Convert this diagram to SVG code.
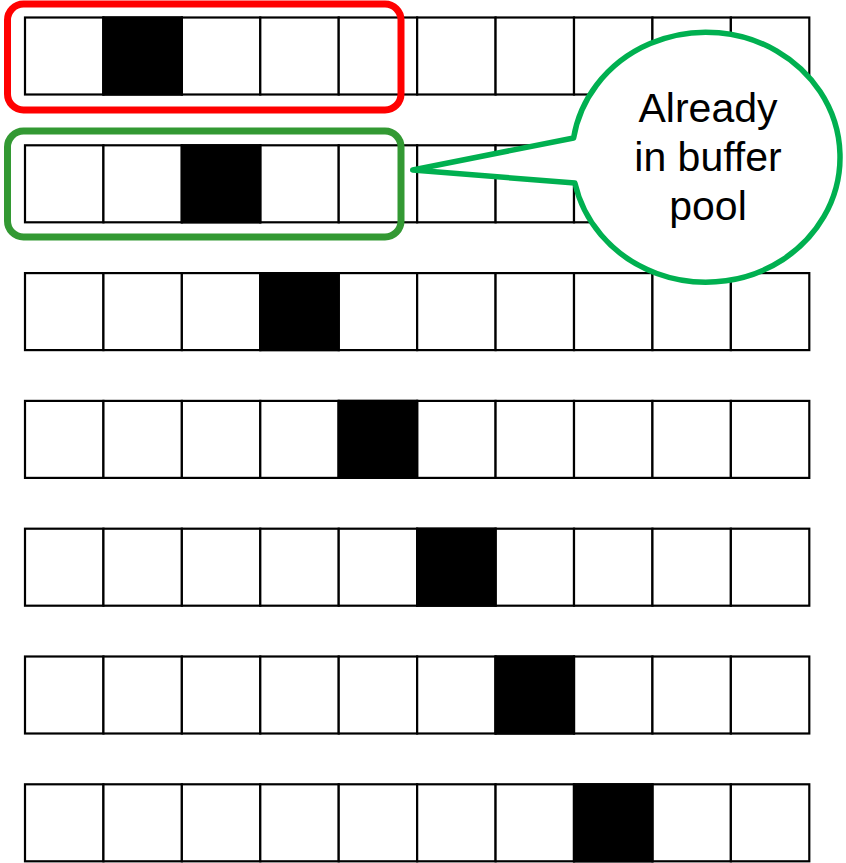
<svg xmlns="http://www.w3.org/2000/svg" width="846" height="863" viewBox="0 0 846 863">
<style>
.c{fill:#fff;stroke:#000;stroke-width:2.2}
.b{fill:#000;stroke:#000;stroke-width:2.2}
.t{font-family:"Liberation Sans",Arial,sans-serif;font-size:41px;fill:#000;text-anchor:middle}
</style>
<defs>
<g id="row">
<rect class="c" x="25" y="0" width="78.43" height="77"/>
<rect class="c" x="103.43" y="0" width="78.43" height="77"/>
<rect class="c" x="181.86" y="0" width="78.43" height="77"/>
<rect class="c" x="260.29" y="0" width="78.43" height="77"/>
<rect class="c" x="338.72" y="0" width="78.43" height="77"/>
<rect class="c" x="417.15" y="0" width="78.43" height="77"/>
<rect class="c" x="495.58" y="0" width="78.43" height="77"/>
<rect class="c" x="574.01" y="0" width="78.43" height="77"/>
<rect class="c" x="652.44" y="0" width="78.43" height="77"/>
<rect class="c" x="730.87" y="0" width="78.43" height="77"/>
</g>
</defs>
<rect width="846" height="863" fill="#fff"/>
<g id="row1" transform="translate(0,17.5)"><use href="#row"/><rect class="b" x="103.43" y="0" width="78.43" height="77"/></g>
<g id="row2" transform="translate(0,145.3)"><use href="#row"/><rect class="b" x="181.86" y="0" width="78.43" height="77"/></g>
<g id="row3" transform="translate(0,273.1)"><use href="#row"/><rect class="b" x="260.29" y="0" width="78.43" height="77"/></g>
<g id="row4" transform="translate(0,400.9)"><use href="#row"/><rect class="b" x="338.72" y="0" width="78.43" height="77"/></g>
<g id="row5" transform="translate(0,528.7)"><use href="#row"/><rect class="b" x="417.15" y="0" width="78.43" height="77"/></g>
<g id="row6" transform="translate(0,656.5)"><use href="#row"/><rect class="b" x="495.58" y="0" width="78.43" height="77"/></g>
<g id="row7" transform="translate(0,784.3)"><use href="#row"/><rect class="b" x="574.01" y="0" width="78.43" height="77"/></g>
<g id="red-box"><rect x="7.5" y="4" width="393.5" height="106" rx="16" fill="none" stroke="#ff0000" stroke-width="7"/></g>
<g id="green-box"><rect x="7.5" y="131" width="393.5" height="106" rx="16" fill="none" stroke="#339933" stroke-width="7"/></g>
<g id="callout">
<path d="M573.6,138 A134,125 0 1 1 574.9,183 L412.7,170 Z" fill="#fff" stroke="#00b050" stroke-width="5.5" stroke-linejoin="round"/>
<text class="t" x="708" y="121.7">Already</text>
<text class="t" x="708" y="171">in buffer</text>
<text class="t" x="708" y="220">pool</text>
</g>
<g id="connectors"/>
</svg>
